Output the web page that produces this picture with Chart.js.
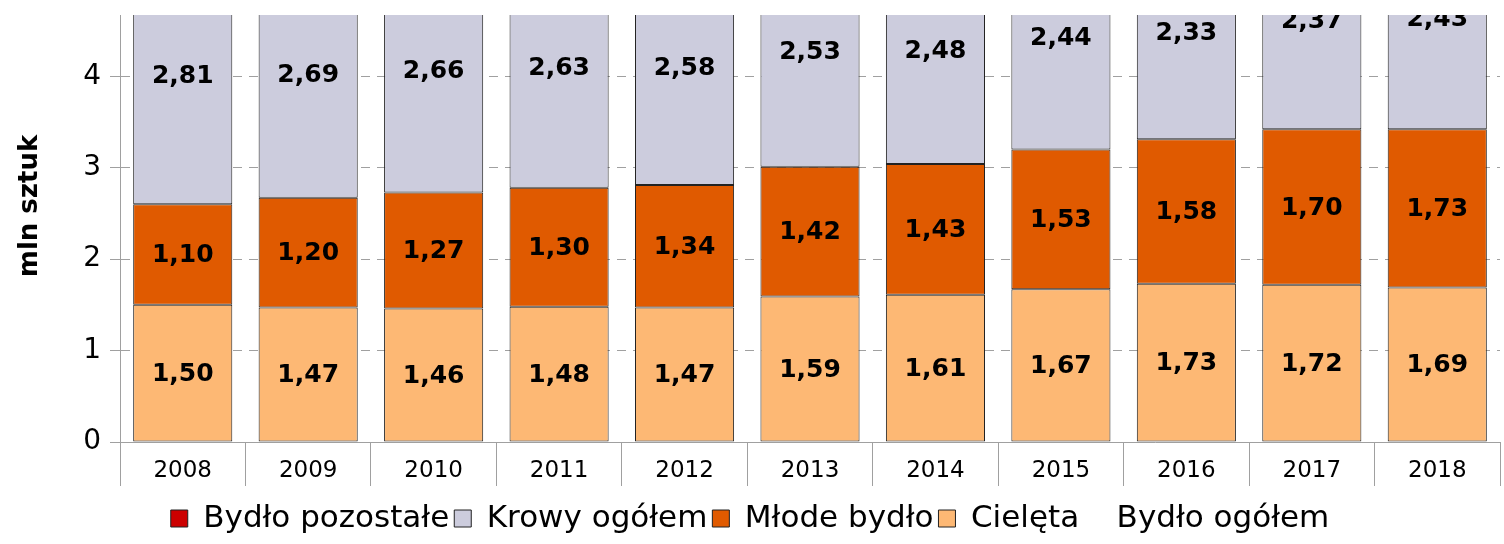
<!DOCTYPE html>
<html>
<head>
<meta charset="utf-8">
<script src="https://cdn.jsdelivr.net/npm/chart.js@4"></script>
<style>
  html, body { margin: 0; padding: 0; background: #fff; }
  #wrap { width: 1504px; height: 544px; }
</style>
</head>
<body>
<div id="wrap"><canvas id="cattleChart" width="1504" height="544"></canvas></div>
<script>
const years = ['2008', '2009', '2010', '2011', '2012', '2013', '2014', '2015', '2016', '2017', '2018'];
const calves = [1.50, 1.47, 1.46, 1.48, 1.47, 1.59, 1.61, 1.67, 1.73, 1.72, 1.69];
const youngCattle = [1.10, 1.20, 1.27, 1.30, 1.34, 1.42, 1.43, 1.53, 1.58, 1.70, 1.73];
const cows = [2.81, 2.69, 2.66, 2.63, 2.58, 2.53, 2.48, 2.44, 2.33, 2.37, 2.43];
const otherCattle = [];
const cattleTotal = [];
const yTicks = [0, 1, 2, 3, 4];
const legendOrder = ['Bydło pozostałe', 'Krowy ogółem', 'Młode bydło', 'Cielęta', 'Bydło ogółem'];
const yTitle = 'mln sztuk';

const FONT = 'DejaVu Sans, Verdana, sans-serif';
const EDGE = '#222';
const GRID = '#a0a0a0';

// values written in the middle of each bar piece, comma as decimal mark
const barLabels = {
  id: 'barLabels',
  afterDatasetsDraw(chart) {
    const { ctx, chartArea } = chart;
    ctx.save();
    ctx.beginPath();
    ctx.rect(chartArea.left, chartArea.top, chartArea.right - chartArea.left, chartArea.bottom - chartArea.top);
    ctx.clip();
    ctx.font = 'bold 25px ' + FONT;
    ctx.fillStyle = '#000';
    ctx.textAlign = 'center';
    ctx.textBaseline = 'middle';
    chart.data.datasets.forEach((ds, i) => {
      if (ds.type === 'line') return;
      const meta = chart.getDatasetMeta(i);
      meta.data.forEach((bar, j) => {
        const v = ds.data[j];
        if (v == null) return;
        ctx.fillText(v.toFixed(2).replace('.', ','), bar.x, (bar.y + bar.base) / 2 + 1);
      });
    });
    ctx.restore();
  }
};

// axis title sits a bit above the middle of the plot, as in the original
const axisTitle = {
  id: 'axisTitle',
  afterDraw(chart) {
    const { ctx } = chart;
    ctx.save();
    ctx.translate(30, 206);
    ctx.rotate(-Math.PI / 2);
    ctx.font = 'bold 26px ' + FONT;
    ctx.fillStyle = '#000';
    ctx.textAlign = 'center';
    ctx.textBaseline = 'middle';
    ctx.fillText(yTitle, 0, 0);
    ctx.restore();
  }
};

function barSet(label, data, color) {
  return {
    label, data,
    backgroundColor: color,
    borderColor: EDGE, borderWidth: 1, borderSkipped: false,
    barPercentage: 0.79, categoryPercentage: 1
  };
}

new Chart(document.getElementById('cattleChart'), {
  type: 'bar',
  data: {
    labels: years,
    datasets: [
      barSet('Cielęta', calves, '#fdb874'),
      barSet('Młode bydło', youngCattle, '#e05a00'),
      barSet('Krowy ogółem', cows, '#ccccdd'),
      barSet('Bydło pozostałe', otherCattle, '#cc0000'),
      { type: 'line', label: 'Bydło ogółem', data: cattleTotal,
        borderColor: 'rgba(0,0,0,0)', backgroundColor: 'rgba(0,0,0,0)', pointRadius: 0 }
    ]
  },
  options: {
    responsive: false,
    animation: false,
    layout: { padding: { top: 15, right: 4, left: 0, bottom: 0 } },
    plugins: {
      legend: {
        position: 'bottom',
        labels: {
          color: '#000', font: { family: FONT, size: 31 },
          boxWidth: 17, boxHeight: 17, padding: 5,
          sort: (a, b) => legendOrder.indexOf(a.text) - legendOrder.indexOf(b.text)
        }
      },
      tooltip: { enabled: false }
    },
    scales: {
      x: {
        stacked: true,
        grid: { offset: true, drawOnChartArea: false, tickLength: 44, color: GRID },
        border: { display: true, color: GRID },
        ticks: { color: '#000', font: { family: FONT, size: 23 }, padding: -29 },
        afterFit: s => { s.height = 56; }
      },
      y: {
        stacked: true,
        min: 0, max: 4.67,
        afterBuildTicks: s => { s.ticks = yTicks.map(v => ({ value: v })); },
        grid: { color: GRID, tickLength: 10 },
        border: { display: true, color: GRID, dash: [9, 7] },
        ticks: { color: '#000', font: { family: FONT, size: 28 }, padding: 9 },
        afterFit: s => { s.width = 120; s.paddingTop = 0; }
      }
    }
  },
  plugins: [barLabels, axisTitle]
});
</script>
</body>
</html>
